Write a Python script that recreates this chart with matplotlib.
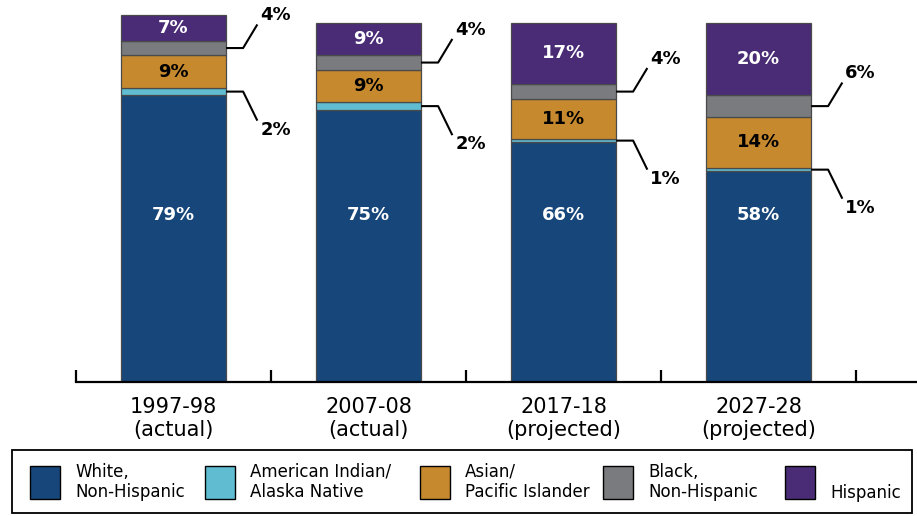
import matplotlib.pyplot as plt
from matplotlib.patches import Rectangle

# data (percent of enrollment)
years = ["1997-98\n(actual)", "2007-08\n(actual)", "2017-18\n(projected)", "2027-28\n(projected)"]
white = [79, 75, 66, 58]
aian = [2, 2, 1, 1]
asian = [9, 9, 11, 14]
black = [4, 4, 4, 6]
hispanic = [7, 9, 17, 20]

groups = ["White,\nNon-Hispanic", "American Indian/\nAlaska Native",
          "Asian/\nPacific Islander", "Black,\nNon-Hispanic", "Hispanic"]
colors = ["#17477a", "#5fbcd1", "#c6892e", "#7a7b7e", "#4a2c76"]

W, H = 917, 516
fig = plt.figure(figsize=(W / 100, H / 100), dpi=100)
ax = fig.add_axes([76 / W, 134 / H, 841 / W, 382 / H])

x = list(range(len(years)))
bw = 0.54
series = [white, aian, asian, black, hispanic]
bottom = [0] * len(years)
bottoms = []
for vals, c in zip(series, colors):
    bottoms.append(list(bottom))
    ax.bar(x, vals, bw, bottom=bottom, color=c, edgecolor="#4a4a4a", lw=0.9, zorder=2)
    bottom = [b + v for b, v in zip(bottom, vals)]

font = "DejaVu Sans"
# inside labels
for i in x:
    ax.text(i, 46, f"{white[i]}%", ha="center", va="center", color="white",
            fontsize=13, fontweight="bold", family=font)
    ax.text(i, bottoms[2][i] + asian[i] / 2, f"{asian[i]}%", ha="center", va="center",
            color="black", fontsize=13, fontweight="bold", family=font)
    ax.text(i, bottoms[4][i] + hispanic[i] / 2, f"{hispanic[i]}%", ha="center", va="center",
            color="white", fontsize=13, fontweight="bold", family=font)

# outside labels with leader lines
def leader(i, ymid, label, up):
    xe = i + bw / 2
    dy = 9 if up else -10.5
    yl = ymid + dy
    yend = yl - 2.5 if up else yl + 2.5
    ax.plot([xe, xe + 0.087, xe + 0.16], [ymid, ymid, yend], color="black", lw=1.5,
            solid_capstyle="butt", clip_on=False, zorder=3)
    ax.text(xe + 0.175, yl, label, ha="left", va="center", fontsize=13,
            fontweight="bold", family=font, clip_on=False)

for i in x:
    leader(i, bottoms[3][i] + black[i] / 2, f"{black[i]}%", True)
    leader(i, bottoms[1][i] + aian[i] / 2, f"{aian[i]}%", False)

ax.set_xlim(-0.5, -0.5 + 841 / 195)
ax.set_ylim(0, 382 / 3.63)
for s in ["top", "right", "left"]:
    ax.spines[s].set_visible(False)
ax.spines["bottom"].set_linewidth(1.6)
ax.set_yticks([])
ax.set_xticks(x)
ax.set_xticklabels(years, fontsize=15, family=font, linespacing=1.2)
ax.tick_params(axis="x", which="major", length=0, pad=11)
ax.set_xticks([-0.5, 0.5, 1.5, 2.5, 3.5], minor=True)
ax.tick_params(axis="x", which="minor", direction="in", length=9, width=1.6)

# legend box
fig.patches.append(Rectangle((12 / W, 3 / H), 900 / W, 63 / H, transform=fig.transFigure,
                             facecolor="white", edgecolor="black", lw=1.3))
sw_x = [30, 205, 420, 603, 785]
for gx, g, c in zip(sw_x, groups, colors):
    fig.patches.append(Rectangle((gx / W, 17 / H), 30 / W, 33 / H, transform=fig.transFigure,
                                 facecolor=c, edgecolor="black", lw=1.0))
    ty = 34 if "\n" in g else 23
    fig.text((gx + 45) / W, ty / H, g, ha="left", va="center", fontsize=12,
             family=font, linespacing=1.15)

fig.savefig("out.png", dpi=100)
